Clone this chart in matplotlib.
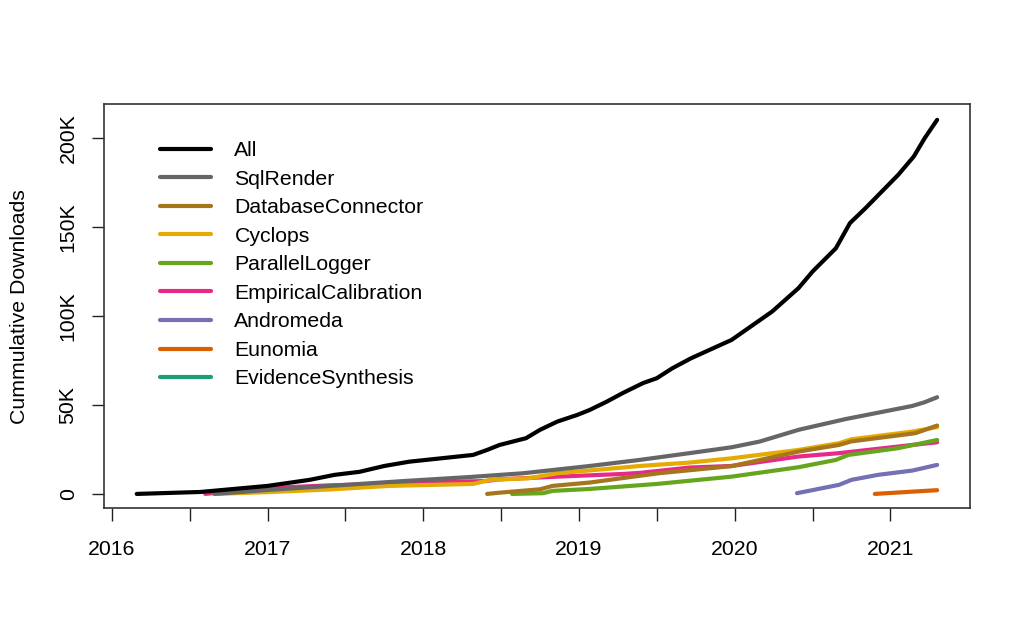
import matplotlib
matplotlib.use("Agg")
import matplotlib.pyplot as plt
from matplotlib.ticker import FuncFormatter, FixedLocator

plt.rcParams['font.family'] = ['Liberation Sans', 'DejaVu Sans']

# decimal year, cumulative downloads in thousands
all_x = [2016.16, 2016.57, 2017.00, 2017.27, 2017.43, 2017.59, 2017.75, 2017.91, 2018.06,
         2018.32, 2018.41, 2018.49, 2018.66, 2018.75, 2018.86, 2018.99, 2019.07, 2019.18,
         2019.28, 2019.41, 2019.50, 2019.60, 2019.72, 2019.98, 2020.24, 2020.41, 2020.50,
         2020.65, 2020.68, 2020.74, 2020.84, 2021.05, 2021.15, 2021.22, 2021.30]
all_y = [0.0, 1.1, 4.5, 7.9, 10.7, 12.4, 15.7, 18.1, 19.5,
         21.9, 24.7, 27.5, 31.3, 36.0, 40.6, 44.4, 47.2, 51.9,
         56.6, 62.2, 65.0, 70.6, 76.2, 86.5, 102.4, 115.6, 124.9,
         138.0, 142.7, 152.1, 160.5, 179.2, 189.5, 199.8, 210.1]

sql_x = [2016.66, 2017.00, 2017.40, 2017.87, 2018.30, 2018.64, 2019.07, 2019.39, 2019.71,
         2019.98, 2020.16, 2020.41, 2020.71, 2021.14, 2021.22, 2021.30]
sql_y = [0.0, 2.2, 4.5, 7.2, 9.5, 11.6, 15.7, 19.1, 22.9,
         26.2, 29.4, 36.0, 42.0, 49.4, 51.5, 54.3]

dbc_x = [2018.41, 2018.49, 2018.75, 2018.83, 2019.07, 2019.51, 2019.98, 2020.41, 2020.67,
         2020.75, 2021.16, 2021.30]
dbc_y = [0.0, 0.7, 2.6, 4.5, 6.4, 11.6, 15.6, 23.8, 27.5,
         29.5, 34.1, 38.4]

cyc_x = [2016.66, 2017.00, 2017.40, 2017.78, 2018.32, 2018.43, 2018.68, 2018.86, 2019.28,
         2019.39, 2019.71, 2019.98, 2020.41, 2020.67, 2020.75, 2021.14, 2021.30]
cyc_y = [0.0, 1.0, 2.5, 4.5, 5.6, 7.9, 8.8, 11.6, 14.8,
         15.7, 17.6, 20.0, 24.7, 28.5, 30.7, 35.0, 37.5]

plog_x = [2018.57, 2018.77, 2018.83, 2019.07, 2019.50, 2019.98, 2020.41, 2020.65, 2020.73,
          2021.05, 2021.30]
plog_y = [0.0, 0.4, 1.7, 2.8, 5.6, 9.7, 15.0, 19.1, 21.9,
          25.7, 30.3]

ecal_x = [2016.60, 2016.80, 2017.00, 2017.40, 2017.80, 2018.20, 2018.40, 2018.49, 2018.86,
          2019.28, 2019.39, 2019.71, 2019.98, 2020.41, 2020.67, 2021.14, 2021.30]
ecal_y = [0.0, 1.7, 3.3, 4.8, 5.8, 6.9, 7.2, 8.2, 9.7,
          11.2, 11.8, 14.8, 15.7, 21.0, 22.9, 27.5, 29.0]

andr_x = [2020.40, 2020.67, 2020.75, 2020.92, 2021.14, 2021.30]
andr_y = [0.4, 5.1, 7.9, 10.7, 13.1, 16.3]

eun_x = [2020.90, 2021.30]
eun_y = [0.0, 2.1]

evs_x = []
evs_y = []

series = [
    ("All", all_x, all_y, "#000000"),
    ("SqlRender", sql_x, sql_y, "#666666"),
    ("DatabaseConnector", dbc_x, dbc_y, "#A6761D"),
    ("Cyclops", cyc_x, cyc_y, "#E6AB02"),
    ("ParallelLogger", plog_x, plog_y, "#66A61E"),
    ("EmpiricalCalibration", ecal_x, ecal_y, "#E7298A"),
    ("Andromeda", andr_x, andr_y, "#7570B3"),
    ("Eunomia", eun_x, eun_y, "#D95F02"),
    ("EvidenceSynthesis", evs_x, evs_y, "#1B9E77"),
]

years = [2016, 2017, 2018, 2019, 2020, 2021]
half_years = [2016.5, 2017.5, 2018.5, 2019.5, 2020.5]
y_ticks = [0, 50000, 100000, 150000, 200000]

fig = plt.figure(figsize=(10.24, 6.4), dpi=100)
ax = fig.add_axes([0.1016, 0.206, 0.8455, 0.6315])

lines = {}
# draw last series first so "All" ends up on top
for i, (name, x, y, col) in enumerate(reversed(series)):
    y = [v * 1000 for v in y]
    l, = ax.plot(x, y, color=col, lw=3, solid_capstyle='round', zorder=2 + i)
    lines[name] = l

ax.set_xlim(2015.95, 2021.51)
ax.set_ylim(-8000, 219000)

ax.set_xticks(years)
ax.set_xticklabels([str(y) for y in years])
ax.xaxis.set_minor_locator(FixedLocator(half_years))
ax.set_yticks(y_ticks)
ax.yaxis.set_major_formatter(FuncFormatter(lambda v, p: "0" if v == 0 else "%dK" % (v / 1000)))

ax.tick_params(axis='both', which='both', direction='out', length=9, width=1,
               color='#222222', labelsize=15.3)
ax.tick_params(axis='x', which='major', pad=14)
ax.tick_params(axis='y', pad=10)
for lab in ax.get_yticklabels():
    lab.set_rotation(90)
    lab.set_va('center')

for s in ax.spines.values():
    s.set_color('#333333')
    s.set_linewidth(1.2)

ax.set_ylabel("Cummulative Downloads", fontsize=15.3, labelpad=21)

leg = ax.legend([lines[n] for n, _, _, _ in series], [n for n, _, _, _ in series],
                loc='upper left', bbox_to_anchor=(160 / 1024, 1 - 141 / 640),
                bbox_transform=fig.transFigure, frameon=False, fontsize=15.3,
                handlelength=2.4, handletextpad=1.1, labelspacing=0.45,
                borderpad=0, borderaxespad=0)

fig.savefig("out.png", dpi=100)
